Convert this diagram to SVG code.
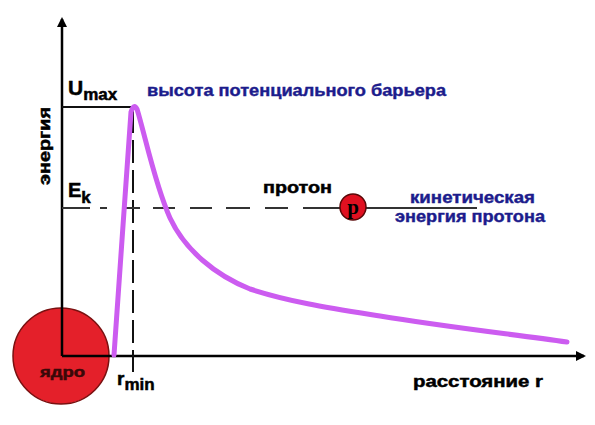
<svg xmlns="http://www.w3.org/2000/svg" width="595" height="425" viewBox="0 0 595 425">
<style>
.ax{stroke:#000;stroke-width:2.5;fill:none}
.thin{stroke:#111;stroke-width:2;fill:none}
.dash{stroke:#333;stroke-width:2;fill:none}
.blk{font-family:"Liberation Sans",Arial,sans-serif;font-weight:bold;fill:#000;stroke:#000;stroke-width:0.5}
.blue{font-family:"Liberation Sans",Arial,sans-serif;font-weight:bold;fill:#1c1c8c;stroke:#1c1c8c;stroke-width:0.4}
</style>
<defs>
<marker id="arr" markerWidth="10" markerHeight="10" refX="8" refY="5" orient="auto" markerUnits="userSpaceOnUse">
<path d="M0,0 L10,5 L0,10 Z" fill="#000"/>
</marker>
</defs>
<rect width="595" height="425" fill="#fff"/>
<g id="nucleus">
<circle cx="61" cy="356" r="48" fill="#e4202a" stroke="#7a1010" stroke-width="1.5"/>
<text x="62.5" y="377" class="blk" font-size="14" text-anchor="middle" textLength="45" lengthAdjust="spacingAndGlyphs" style="fill:#3a0808;stroke:#3a0808">ядро</text>
</g>
<g id="connectors">
<line class="ax" x1="62" y1="356" x2="62" y2="19" marker-end="url(#arr)"/>
<line class="ax" x1="62" y1="356" x2="584" y2="356" marker-end="url(#arr)"/>
<line class="thin" x1="62" y1="107" x2="138" y2="107"/>
<line class="thin" x1="133" y1="110" x2="133" y2="372" stroke-dasharray="23 7"/>
<path class="dash" d="M62,208 H90 M100,208 H107 M125,208 H140 M153,208 H175 M190,208 H212 M226,208 H250 M265,208 H288 M303,208 H477"/>
</g>
<g id="curve">
<path d="M114,355 C118,300 126,180 131,112 Q134,103 137,109 C145,135 155,185 170,218 C185,250 215,275 250,289 C290,302 330,308 380,316 C440,326 510,334 567,342" fill="none" stroke="#cc5cf0" stroke-width="5" stroke-linecap="round" stroke-linejoin="round"/>
</g>
<g id="proton">
<circle cx="353" cy="207" r="13" fill="#e01020" stroke="#5a0808" stroke-width="1.5"/>
<text x="353" y="214" font-family="Liberation Serif,serif" font-weight="bold" font-size="21" text-anchor="middle" fill="#000">p</text>
</g>
<g id="labels">
<text class="blk" x="68" y="95" font-size="21">U<tspan font-size="17" dy="5">max</tspan></text>
<text class="blk" x="68" y="197" font-size="20">E<tspan font-size="17" dy="6">k</tspan></text>
<text class="blk" x="117" y="385" font-size="19">r<tspan font-size="17" dy="5">min</tspan></text>
<text class="blk" transform="translate(50,146) rotate(-90)" font-size="17" text-anchor="middle" textLength="78" lengthAdjust="spacingAndGlyphs">энергия</text>
<text class="blue" x="147" y="96" font-size="16" textLength="299" lengthAdjust="spacingAndGlyphs">высота потенциального барьера</text>
<text class="blk" x="263" y="193" font-size="17" textLength="69" lengthAdjust="spacingAndGlyphs">протон</text>
<text class="blue" x="410" y="203" font-size="16" textLength="125" lengthAdjust="spacingAndGlyphs">кинетическая</text>
<text class="blue" x="395" y="222" font-size="16" textLength="150" lengthAdjust="spacingAndGlyphs">энергия протона</text>
<text class="blk" x="413" y="387" font-size="17" textLength="130" lengthAdjust="spacingAndGlyphs">расстояние r</text>
</g>
</svg>
